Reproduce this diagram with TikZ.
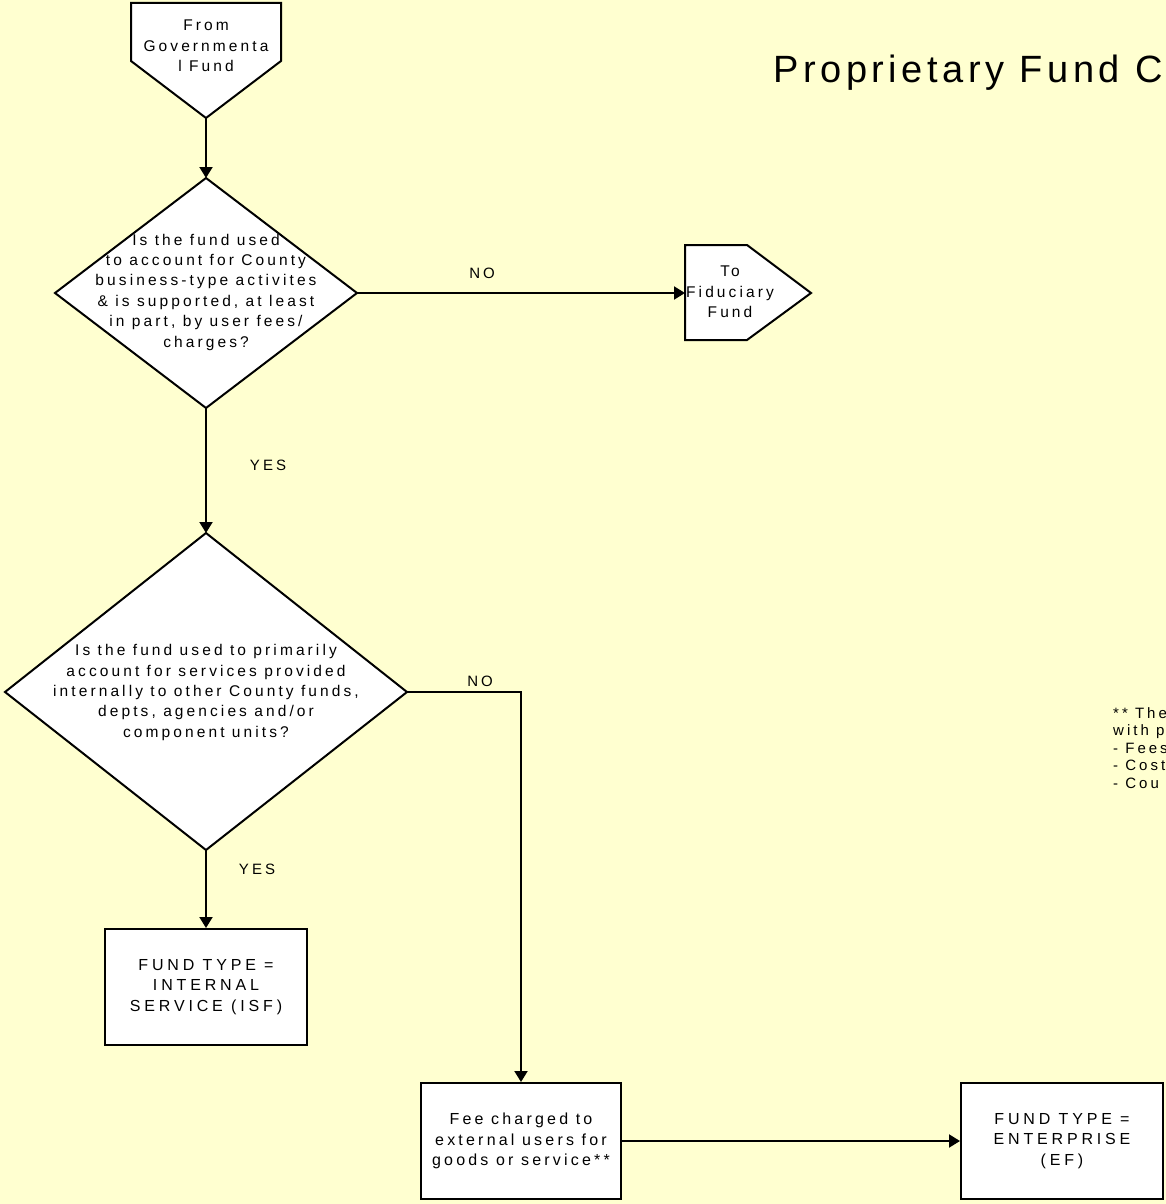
\documentclass[tikz,border=0pt]{standalone}
\usepackage{fontspec}
\setmainfont{Liberation Sans}
\newfontfamily\spaced[LetterSpace=20]{Liberation Sans}
\newfontfamily\wide[LetterSpace=24]{Liberation Sans}
\newfontfamily\titlefont[LetterSpace=12]{Liberation Sans}
\usetikzlibrary{arrows.meta}
\definecolor{bg}{RGB}{255,255,208}
\begin{document}
\begin{tikzpicture}[x=1pt,y=-1pt,
  shapeline/.style={draw=black, line width=2pt, fill=white, line join=miter},
  txt/.style={align=center, font=\spaced\fontsize{15.5}{20.4}\selectfont, inner sep=0pt},
  rbox/.style={shapeline, align=center, font=\wide\fontsize{16}{20.4}\selectfont, inner sep=0pt},
  lbl/.style={font=\spaced\fontsize{15}{18}\selectfont, inner sep=0pt},
  conn/.style={line width=2pt, -{Triangle[length=11pt,width=13pt]}},
]
\useasboundingbox (0,0) rectangle (1166,1204);
\clip (0,0) rectangle (1166,1204);
\fill[bg] (0,0) rectangle (1166,1204);

% start off-page connector
\coordinate (s1) at (131,3);
\coordinate (s2) at (281,3);
\coordinate (s3) at (281,61);
\coordinate (sp) at (206,118);
\coordinate (s4) at (131,61);
\draw[shapeline] (s1) -- (s2) -- (s3) -- (sp) -- (s4) -- cycle;
\node[txt] (stxt) at (206,46) {From\\Governmenta\\l Fund};

% decision 1
\coordinate (d1t) at (206,178);
\coordinate (d1r) at (357,293);
\coordinate (d1b) at (206,408);
\coordinate (d1l) at (55,293);
\draw[shapeline] (d1t) -- (d1r) -- (d1b) -- (d1l) -- cycle;
\node[txt] (q1) at (206,292) {Is the fund used\\to account for County\\business-type activites\\\& is supported, at least\\in part, by user fees/\\charges?};

% to fiduciary
\coordinate (f1) at (685,245);
\coordinate (f2) at (747,245);
\coordinate (fp) at (811,293);
\coordinate (f3) at (747,340);
\coordinate (f4) at (685,340);
\coordinate (fl) at (685,293);
\draw[shapeline] (f1) -- (f2) -- (fp) -- (f3) -- (f4) -- cycle;
\node[txt] (ftxt) at (730,292) {To\\Fiduciary\\Fund};

% decision 2
\coordinate (d2t) at (206,533);
\coordinate (d2r) at (407,692);
\coordinate (d2b) at (206,850);
\coordinate (d2l) at (5,692);
\draw[shapeline] (d2t) -- (d2r) -- (d2b) -- (d2l) -- cycle;
\node[txt] (q2) at (206,692.5) {Is the fund used to primarily\\account for services provided\\internally to other County funds,\\depts, agencies and/or\\component units?};

% boxes
\node[rbox, minimum width=202pt, minimum height=116pt] (isf) at (206,987) {FUND TYPE =\\INTERNAL\\SERVICE (ISF)};
\node[rbox, font=\spaced\fontsize{16}{20.4}\selectfont, minimum width=200pt, minimum height=116pt] (fee) at (521,1141) {Fee charged to\\external users for\\goods or service**};
\node[rbox, minimum width=202pt, minimum height=116pt] (ef) at (1062,1141) {FUND TYPE =\\ENTERPRISE\\(EF)};

% connectors
\draw[conn] (sp) -- (d1t);
\draw[conn] (d1r) -- (fl);
\draw[conn] (d1b) -- (d2t);
\draw[conn] (d2r) -| (fee.north);
\draw[conn] (d2b) -- (isf.north);
\draw[conn] (fee.east) -- (ef.west);

% labels
\node[lbl] (no1) at (482,273) {NO};
\node[lbl] (yes1) at (268,465) {YES};
\node[lbl] (no2) at (480,681) {NO};
\node[lbl] (yes2) at (257,869) {YES};

% title and note
\node[anchor=base west, font=\titlefont\fontsize{38}{40}\selectfont, inner sep=0pt] (title) at (773,83) {Proprietary Fund C};
\node[anchor=north west, align=left, font=\spaced\fontsize{15}{17.5}\selectfont, inner sep=0pt] (note) at (1113,707) {** The\\with p\\- Fees\\- Cost\\- Cou};
\end{tikzpicture}
\end{document}
